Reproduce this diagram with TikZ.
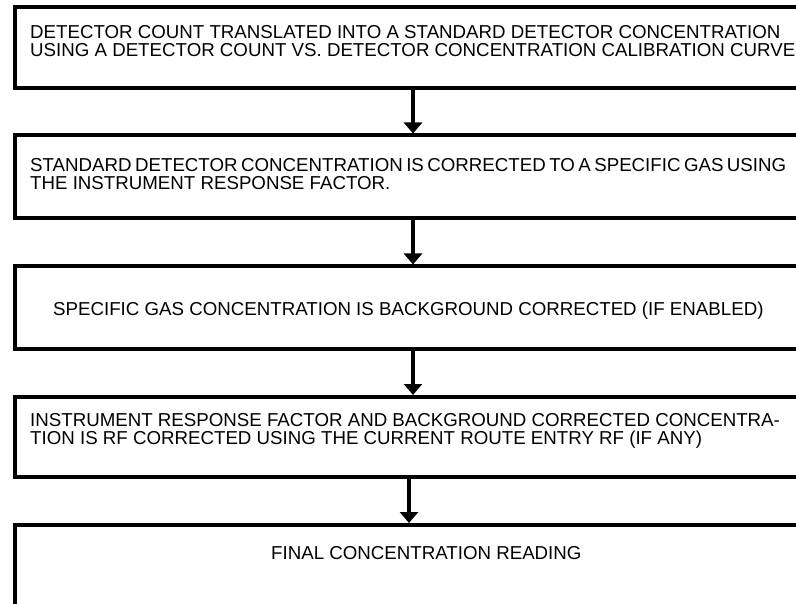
\documentclass[tikz,border=0pt]{standalone}
\usepackage{fontspec}
\setmainfont{Liberation Sans}
\usetikzlibrary{arrows.meta}
\begin{document}
\begin{tikzpicture}[x=1pt,y=-1pt,
  box/.style={draw,line width=3.6pt,rectangle,inner sep=0pt,anchor=north west,minimum width=800pt},
  txt/.style={anchor=base west,inner sep=0pt,text height=12.5pt,text depth=3pt,font=\fontsize{18.7}{18}\selectfont},
  arr/.style={line width=3.8pt,-{Triangle[width=18pt,length=11pt]}}]
\path[use as bounding box] (0,0) rectangle (796,604);
\clip (0,0) rectangle (796,604);
\fill[white] (0,0) rectangle (796,604);
% boxes
\node[box,minimum height=80.5pt] (b1) at (13,5.5) {};
\node[box,minimum height=82.5pt] (b2) at (13,133.5) {};
\node[box,minimum height=82.5pt] (b3) at (13,264.5) {};
\node[box,minimum height=80pt]   (b4) at (13,395) {};
\node[box,minimum height=120pt]  (b5) at (13,523) {};
% texts
\node[txt] (t1a) at (30,39) {DETECTOR COUNT TRANSLATED INTO A STANDARD DETECTOR CONCENTRATION};
\node[txt] (t1b) at (30,57) {USING A DETECTOR COUNT VS. DETECTOR CONCENTRATION CALIBRATION CURVE};
\node[txt] (t2a) at (30,172) {\makebox[754pt][s]{STANDARD DETECTOR CONCENTRATION IS CORRECTED TO A SPECIFIC GAS USING}};
\node[txt] (t2b) at (30,190) {THE INSTRUMENT RESPONSE FACTOR.};
\node[txt] (t3) at (53,316) {SPECIFIC GAS CONCENTRATION IS BACKGROUND CORRECTED (IF ENABLED)};
\node[txt] (t4a) at (30,426) {INSTRUMENT RESPONSE FACTOR AND BACKGROUND CORRECTED CONCENTRA-};
\node[txt] (t4b) at (30,444) {TION IS RF CORRECTED USING THE CURRENT ROUTE ENTRY RF (IF ANY)};
\node[txt] (t5) at (271,559) {FINAL CONCENTRATION READING};
% connectors
\coordinate (ax) at (413,0);
\coordinate (ay) at (409,0);
\draw[arr] (ax |- b1.south) -- (ax |- b2.north);
\draw[arr] (ax |- b2.south) -- (ax |- b3.north);
\draw[arr] (ax |- b3.south) -- (ax |- b4.north);
\draw[arr] (ay |- b4.south) -- (ay |- b5.north);
\end{tikzpicture}
\end{document}
